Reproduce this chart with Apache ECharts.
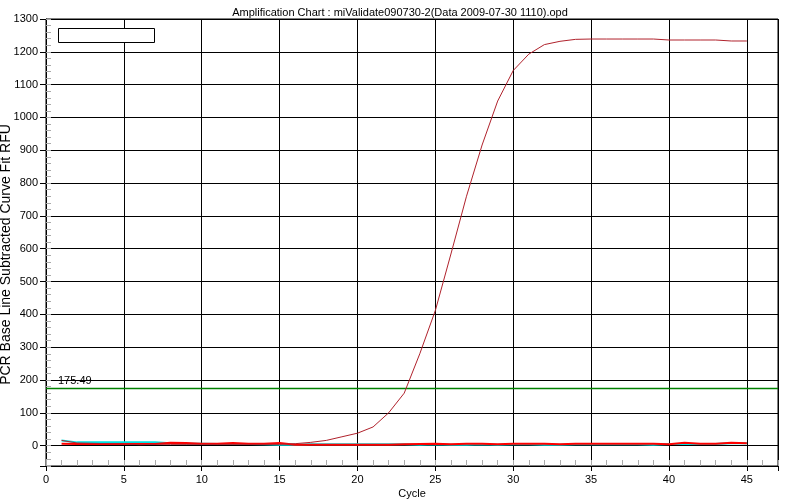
<!DOCTYPE html>
<html>
<head>
<meta charset="utf-8">
<script src="https://cdn.jsdelivr.net/npm/echarts@6/dist/echarts.min.js"></script>
<style>html,body{margin:0;padding:0;background:#fff;}#c{width:800px;height:500px;}</style>
</head>
<body>
<div id="c"></div>
<script>
var cycles = [1,2,3,4,5,6,7,8,9,10,11,12,13,14,15,16,17,18,19,20,21,22,23,24,25,26,27,28,29,30,31,32,33,34,35,36,37,38,39,40,41,42,43,44,45];
var curveFit = [16,8,7,6,5,3,4,4,4,4,4,4,4,4,4,6,10,16,27,38,57,100,160,280,412,584,760,916,1050,1143,1193,1222,1232,1238,1239,1239,1239,1239,1239,1236,1236,1236,1236,1233,1233];
var baselineRed = [6,5,5,5,5,5,5,9,8,6,6,8,6,6,8,3,3,3,3,3,3,3,4,5,6,4,6,6,4,6,6,6,4,6,6,6,6,6,6,4,9,6,6,9,7];
var baselineCyan = [16,10,10,10,10,10,10,7,6,6,5,5,5,4,3,3,4,4,4,4,4,4,4,3,4,3,3,4,3,4,4,3,3,4,4,4,4,4,3,5,5,5,5,7,7];
var thresholdValue = 175.49;
var titleText = 'Amplification Chart : miValidate090730-2(Data 2009-07-30 1110).opd';
var xName = 'Cycle';
var yName = 'PCR Base Line Subtracted Curve Fit RFU';

function pairs(vals){ return cycles.map(function(c,i){ return [c, vals[i]]; }); }

var font = 'Liberation Sans, Arial, sans-serif';
var chart = echarts.init(document.getElementById('c'), null, {renderer:'canvas'});
chart.setOption({
  animation: false,
  backgroundColor: '#fff',
  title: { text: titleText, left: 'center', top: 2,
    textStyle: { fontFamily: font, fontSize: 11, fontWeight: 'normal', color: '#000' } },
  grid: { left: 46, right: 22, top: 19, bottom: 34, containLabel: false, outerBoundsMode: 'none',
    show: true, borderColor: '#000', borderWidth: 1, backgroundColor: 'transparent' },
  graphic: [{ type: 'rect', left: 58, top: 28, shape: { width: 96, height: 14 },
    style: { fill: '#fff', stroke: '#000', lineWidth: 1 }, z: 100 }],
  xAxis: [
    { type: 'value', min: 0, max: 47, interval: 5, name: xName, nameLocation: 'middle', nameGap: 22,
      nameMoveOverlap: false,
      nameTextStyle: { fontFamily: font, fontSize: 11, color: '#000' },
      axisLine: { show: true, onZero: false, lineStyle: { color: '#000', width: 1 } },
      axisTick: { show: true, inside: false, length: 5, lineStyle: { color: '#000' } },
      axisLabel: { fontFamily: font, fontSize: 11, color: '#000', margin: 8,
        formatter: function(v){ return v % 5 === 0 && v <= 45 ? String(v) : ''; } },
      splitLine: { show: true, lineStyle: { color: '#000', width: 1 } } },
    { type: 'value', min: 0, max: 47, interval: 1, position: 'bottom',
      axisLine: { show: false, onZero: false }, axisLabel: { show: false }, splitLine: { show: false },
      axisTick: { show: true, inside: true, length: 6, lineStyle: { color: '#aaa' } } }
  ],
  yAxis: [
    { type: 'value', min: -62, max: 1300, minInterval: 100, maxInterval: 100, splitNumber: 14,
      name: yName, nameLocation: 'middle', nameGap: 33, nameMoveOverlap: false,
      nameTextStyle: { fontFamily: font, fontSize: 14, color: '#000', padding: [0, 24, 0, 0] },
      axisLine: { show: true, onZero: false, lineStyle: { color: '#000', width: 1 } },
      axisTick: { show: true, inside: false, length: 6, lineStyle: { color: '#000' } },
      axisLabel: { fontFamily: font, fontSize: 11, color: '#000', margin: 8,
        formatter: function(v){ return v % 100 === 0 ? String(v) : ''; } },
      splitLine: { show: true, lineStyle: { color: '#000', width: 1 } } },
    { type: 'value', min: -62, max: 1300, minInterval: 20, maxInterval: 20, splitNumber: 68, position: 'left',
      axisLine: { show: false, onZero: false }, axisLabel: { show: false }, splitLine: { show: false },
      axisTick: { show: true, inside: true, length: 5, lineStyle: { color: '#aaa' } } }
  ],
  series: [
    { type: 'line', name: 'cyan', data: pairs(baselineCyan), showSymbol: false, symbol: 'none',
      lineStyle: { color: '#00e0e0', width: 2 }, z: 3 },
    { type: 'line', name: 'red', data: pairs(baselineRed), showSymbol: false, symbol: 'none',
      lineStyle: { color: '#ff0000', width: 2 }, z: 4 },
    { type: 'line', name: 'fit', data: pairs(curveFit), showSymbol: false, symbol: 'none',
      lineStyle: { color: '#b0222c', width: 1 }, z: 5,
      markLine: { silent: true, symbol: 'none', animation: false,
        lineStyle: { color: '#008000', width: 1.3, type: 'solid' },
        label: { show: true, position: 'insideStartTop', distance: [12, 2], formatter: '175.49',
          fontFamily: font, fontSize: 11, color: '#000' },
        data: [{ yAxis: thresholdValue }] } }
  ]
});
</script>
</body>
</html>
